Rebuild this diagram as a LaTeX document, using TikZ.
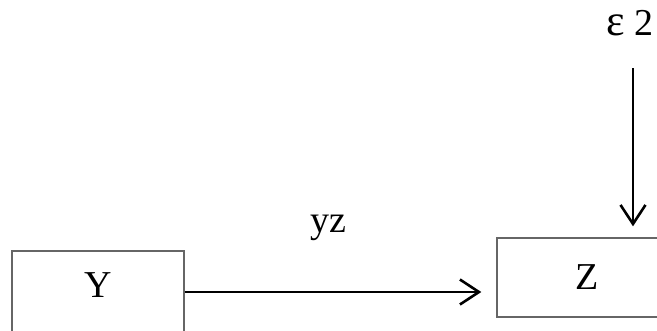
\documentclass[tikz,border=0pt]{standalone}
\usepackage{fontspec}
\setmainfont{Liberation Serif}
\usetikzlibrary{arrows.meta}
\begin{document}
\begin{tikzpicture}[x=1pt,y=-1pt,font=\fontsize{38pt}{40pt}\selectfont,
    box/.style={draw=black!60,line width=1.4pt,inner sep=0pt},
    arr/.style={line width=2.6pt,-{Straight Barb[length=19pt,width=25pt]}}]
  \useasboundingbox (0,0) rectangle (657,330);
  \node[box,minimum width=172pt,minimum height=82pt,text depth=13pt] (Y) at (98,292) {Y};
  \node[box,minimum width=180pt,minimum height=79pt] (Z) at (587,277.5) {Z};
  \node[anchor=base] (yz) at (328,232) {yz};
  \node[inner sep=0pt,anchor=base east] (e2) at (654,35) {{\fontsize{44pt}{44pt}\selectfont ε} 2};
  \coordinate (e2in) at (633,68);
  \draw[arr,shorten >=15pt] (Y.east) -- (Z.west |- Y.east);
  \draw[arr,shorten >=11pt] (e2in) -- (e2in |- Z.north);
\end{tikzpicture}
\end{document}
